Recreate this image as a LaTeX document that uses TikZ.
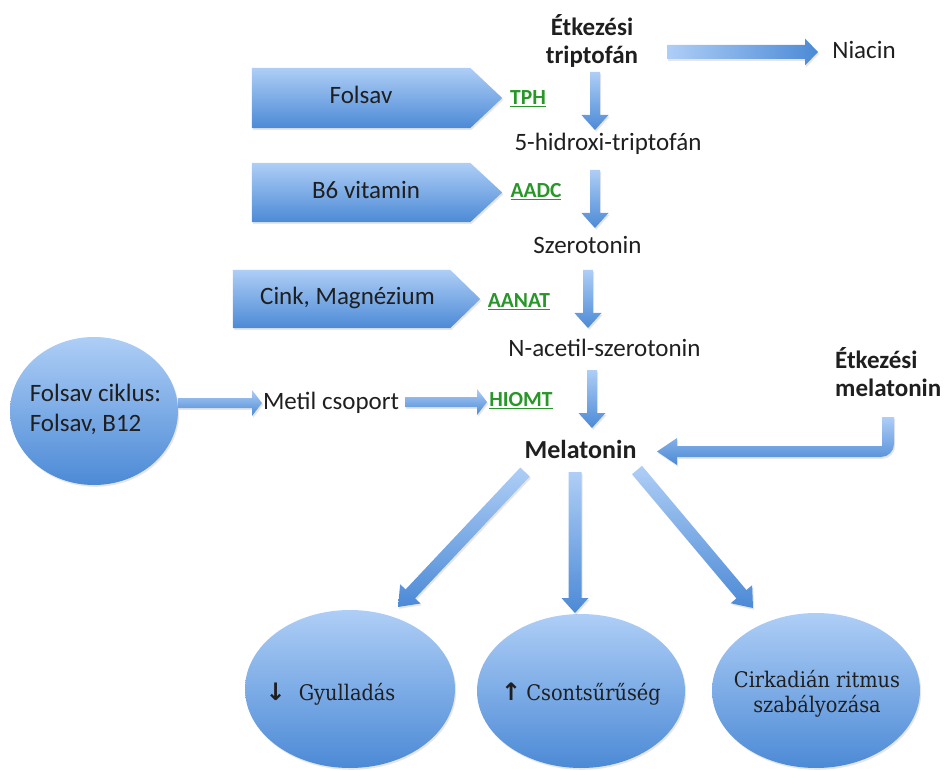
\documentclass[tikz,border=0pt]{standalone}
\usepackage{fontspec}
\setmainfont{Carlito}
\newfontfamily\serifb{DejaVu Serif Condensed}
\newfontfamily\arrowf{DejaVu Sans}
\newcommand\arrowglyph[1]{{\arrowf\bfseries\fontsize{24}{24}\selectfont #1}}
\usetikzlibrary{calc,shapes.geometric,shadows}
\definecolor{blL}{RGB}{174,206,246}
\definecolor{blD}{RGB}{76,138,214}
\definecolor{enz}{RGB}{40,150,40}
\pgfdeclarelayer{bg}
\pgfsetlayers{bg,main}
% #1 options, #2 from, #3 to, #4 shaft half width, #5 head half width, #6 head length
\newcommand\blockarrow[6][]{%
  \path[shadeblue,#1] let \p1=(#2), \p2=(#3),
    \n1={atan2(\y2-\y1,\x2-\x1)}, \n2={veclen(\x2-\x1,\y2-\y1)} in
    [shift={(\p1)}, rotate=\n1]
    (0,-#4) -- ({\n2-#6},-#4) -- ({\n2-#6},-#5) -- (\n2,0)
    -- ({\n2-#6},#5) -- ({\n2-#6},#4) -- (0,#4) -- cycle;}
\begin{document}
\begin{tikzpicture}[x=1pt,y=1pt,
  every node/.style={inner sep=0pt, text=black!88},
  txt/.style={font=\fontsize{25}{30}\selectfont, text height=17pt, text depth=5pt},
  btxt/.style={font=\fontsize{25}{28}\selectfont\bfseries},
  enzyme/.style={font=\fontsize{21.5}{24}\selectfont\bfseries, text=enz, text height=14pt, text depth=5pt},
  stxt/.style={font=\serifb\fontsize{21.5}{25}\selectfont},
  shadeblue/.style={top color=blL, bottom color=blD, draw=none,
    drop shadow={opacity=0.2, shadow xshift=1.2pt, shadow yshift=-1.8pt}},
  bodybox/.style={minimum width=218pt, minimum height=60pt},
  blob/.style={ellipse, shadeblue},
  ]
\useasboundingbox (0,0) rectangle (946,-770);

% ---------- text nodes of the main pathway ----------
\node[btxt, align=center] (trip) at (592,-41) {Étkezési\\triptofán};
\node[txt] (niacin) at (864,-53) {Niacin};
\node[txt] (hidroxi) at (608,-145) {5-hidroxi-triptofán};
\node[txt] (szer) at (587.5,-248) {Szerotonin};
\node[txt] (nacetil) at (604.5,-350) {N-acetil-szerotonin};
\node[btxt, font=\fontsize{26}{28}\selectfont\bfseries, text height=18pt, text depth=0pt] (mela) at (580.5,-449) {Melatonin};
\node[btxt, align=left, anchor=west] (etkmel) at (835,-372) {Étkezési\\melatonin};

% ---------- enzymes ----------
\node[enzyme] (tph) at (528,-100) {\underline{TPH}};
\node[enzyme] (aadc) at (536,-193) {\underline{AADC}};
\node[enzyme] (aanat) at (519,-303) {\underline{AANAT}};
\node[enzyme] (hiomt) at (521,-402) {\underline{HIOMT}};

% ---------- cofactor boxes ----------
\node[bodybox, txt] (folsav) at (361,-98) {Folsav};
\node[bodybox, txt, minimum height=59pt] (b6) at (361,-192.5) {\hspace*{10pt}B6 vitamin};
\node[bodybox, txt, minimum width=217pt, minimum height=58pt] (cink) at (341.5,-299) {\hspace*{12pt}Cink, Magnézium};
\begin{pgfonlayer}{bg}
  \path[shadeblue] (folsav.north west) -- (folsav.north east) -- ($(folsav.east)+(32,0)$)
    -- (folsav.south east) -- (folsav.south west) -- cycle;
  \path[shadeblue] (b6.north west) -- (b6.north east) -- ($(b6.east)+(32,0)$)
    -- (b6.south east) -- (b6.south west) -- cycle;
  \path[shadeblue] (cink.north west) -- (cink.north east) -- ($(cink.east)+(30,0)$)
    -- (cink.south east) -- (cink.south west) -- cycle;
\end{pgfonlayer}

% ---------- folate cycle ----------
\node[blob, minimum width=168pt, minimum height=148pt] (cycle) at (94,-411) {};
\node[txt, align=left, text height=, text depth=] (cyclet) at (95.5,-409) {Folsav ciklus:\\Folsav, B12};
\node[txt] (metil) at (331,-403) {Metil csoport};

% ---------- outcome ellipses ----------
\node[blob, minimum width=210pt, minimum height=158pt] (gy) at (350,-689) {};
\node[stxt] (gyt) at (330.5,-694) {\arrowglyph{↓}\hspace{13pt}Gyulladás};
\node[blob, minimum width=208pt, minimum height=154pt] (cs) at (581,-691) {};
\node[stxt] (cst) at (581,-694) {\arrowglyph{↑}\hspace{5pt}Csontsűrűség};
\node[blob, minimum width=208pt, minimum height=155pt] (cir) at (816,-690.5) {};
\node[stxt, align=center] (cirt) at (817,-694) {Cirkadián ritmus\\szabályozása};

% ---------- connector end points ----------
\coordinate (n1) at (667,-52);   \coordinate (n2) at (818,-52);
\coordinate (v1a) at (595,-72);  \coordinate (v1b) at (595,-130);
\coordinate (v2a) at (595,-170); \coordinate (v2b) at (595,-228);
\coordinate (v3a) at (588,-270); \coordinate (v3b) at (588,-328);
\coordinate (v4a) at (592,-370); \coordinate (v4b) at (592,-428);
\coordinate (m1a) at (178,-403); \coordinate (m1b) at (262,-403);
\coordinate (m2a) at (405,-402); \coordinate (m2b) at (487,-402);
\coordinate (dla) at (525,-472); \coordinate (dlb) at (398,-607);
\coordinate (dma) at (575,-472); \coordinate (dmb) at (575,-613);
\coordinate (dra) at (637,-470); \coordinate (drb) at (753,-608);

% ---------- block arrows ----------
\blockarrow[left color=blL, right color=blD]{n1}{n2}{7}{13.5}{13}
\blockarrow{v1a}{v1b}{5}{13.5}{15}
\blockarrow{v2a}{v2b}{5}{13.5}{15}
\blockarrow{v3a}{v3b}{5}{13.5}{15}
\blockarrow{v4a}{v4b}{5}{13.5}{15}
\blockarrow{m1a}{m1b}{5}{13}{10}
\blockarrow{m2a}{m2b}{5}{13}{10}
\blockarrow{dla}{dlb}{6.5}{14}{18}
\blockarrow{dma}{dmb}{6.5}{13.5}{15}
\blockarrow{dra}{drb}{6.5}{14}{18}

% bent arrow: dietary melatonin -> melatonin
\path[shadeblue] (882,-417) -- (894,-417) -- (894,-444)
  arc[start angle=0, end angle=-90, radius=13]
  -- (677,-457) -- (677,-465) -- (657,-451.5) -- (677,-438) -- (677,-446)
  -- (882,-446) -- cycle;
\end{tikzpicture}
\end{document}
